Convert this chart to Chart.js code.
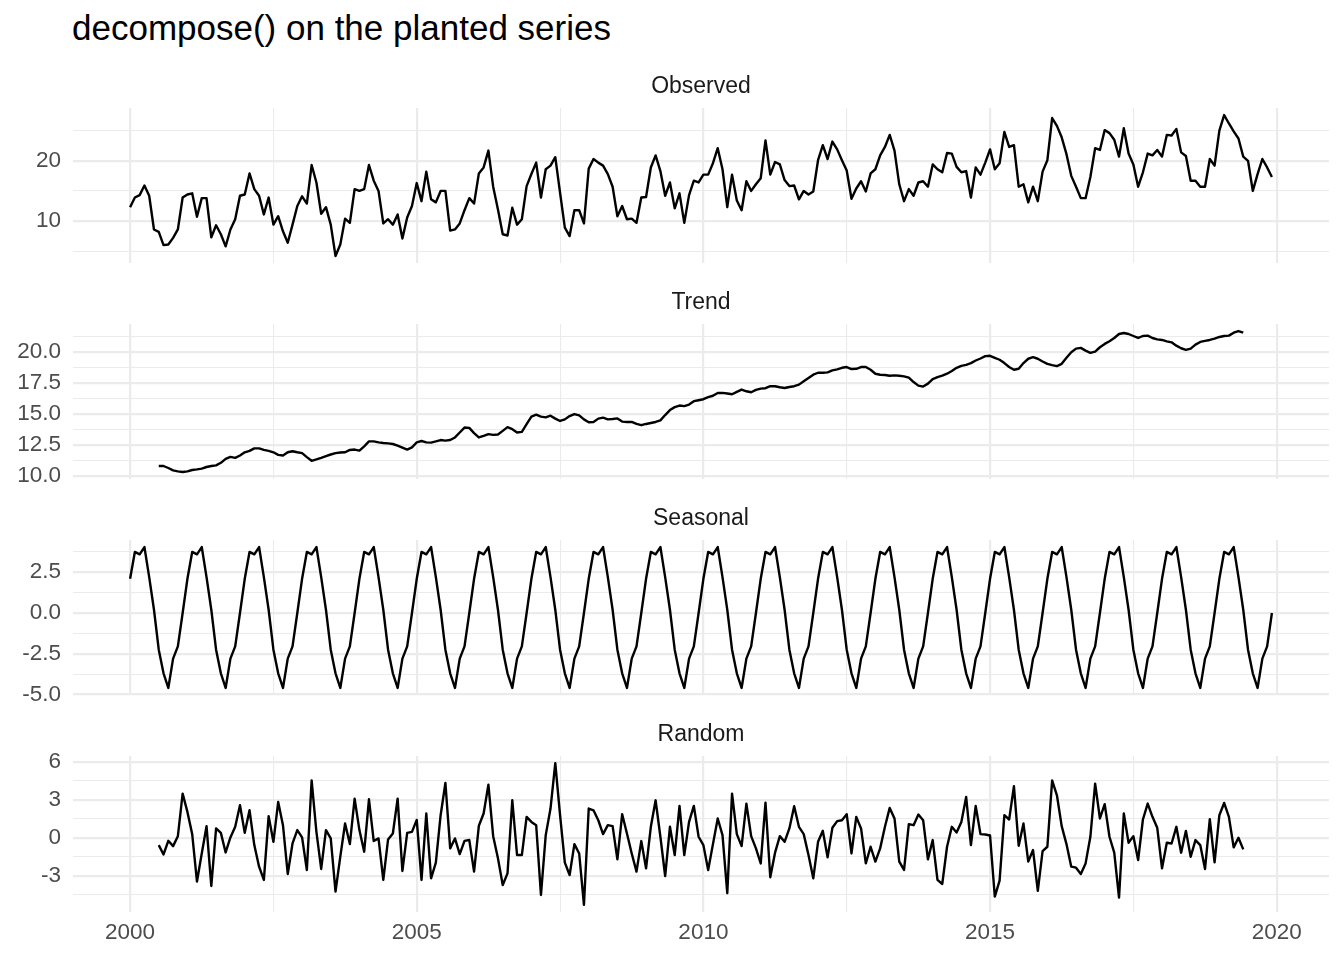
<!DOCTYPE html>
<html>
<head>
<meta charset="utf-8">
<script src="https://cdn.jsdelivr.net/npm/chart.js@4.4.1/dist/chart.umd.min.js"></script>
<style>
html, body { margin: 0; padding: 0; background: #ffffff; }
#wrap { position: relative; width: 1344px; height: 960px; overflow: hidden; background: #ffffff;
        font-family: "Liberation Sans", Arial, Helvetica, sans-serif; }
.title { position: absolute; left: 72px; top: 10px; font-size: 35px; line-height: 35px; color: #000000; white-space: nowrap; }
.strip { position: absolute; left: 73px; width: 1256px; text-align: center; font-size: 23px; line-height: 23px; color: #1A1A1A; white-space: nowrap; }
canvas { position: absolute; left: 0; }
</style>
</head>
<body>
<div id="wrap">
  <canvas id="c0" width="1344" height="215" style="top:78px"></canvas>
  <canvas id="c1" width="1344" height="215" style="top:294px"></canvas>
  <canvas id="c2" width="1344" height="215" style="top:510px"></canvas>
  <canvas id="c3" width="1344" height="247" style="top:726px"></canvas>
  <div class="title">decompose() on the planted series</div>
  <div class="strip" id="s0" style="top:74px"></div>
  <div class="strip" id="s1" style="top:290px"></div>
  <div class="strip" id="s2" style="top:506px"></div>
  <div class="strip" id="s3" style="top:722px"></div>
</div>
<script>
// ---------------- data (monthly, starting Jan 2000) ----------------
const startYear = 2000;
const monthsPerYear = 12;
const panelNames = ["Observed", "Trend", "Seasonal", "Random"];

const observed = [
  12.3, 13.9, 14.3, 15.9, 14.2, 8.6, 8.2, 6.0, 6.1, 7.2, 8.6, 13.9,
  14.4, 14.6, 10.7, 13.8, 13.8, 7.3, 9.3, 7.8, 5.8, 8.6, 10.3, 14.2,
  14.4, 17.9, 15.3, 14.2, 11.1, 13.9, 9.4, 10.8, 8.3, 6.4, 9.4, 12.5,
  14.1, 12.9, 19.3, 16.4, 11.2, 12.3, 9.4, 4.2, 6.1, 10.4, 9.7, 15.3,
  15.0, 15.3, 19.3, 16.7, 15.0, 9.6, 10.3, 9.4, 11.1, 7.1, 10.6, 12.5,
  16.3, 13.3, 18.2, 13.6, 13.1, 15.0, 15.0, 8.4, 8.6, 9.6, 11.8, 13.8,
  12.9, 17.9, 18.9, 21.7, 15.7, 11.9, 7.8, 7.6, 12.2, 9.4, 10.3, 15.8,
  17.8, 19.7, 13.9, 18.6, 19.2, 20.6, 14.7, 8.9, 7.5, 11.8, 11.8, 9.6,
  18.7, 20.3, 19.7, 19.2, 17.8, 15.7, 10.8, 12.5, 10.3, 10.4, 9.7, 13.9,
  14.0, 18.9, 20.9, 18.3, 14.2, 16.4, 12.1, 14.6, 9.7, 14.3, 16.7, 16.4,
  17.7, 17.7, 19.6, 22.1, 18.6, 12.3, 17.7, 13.4, 11.8, 16.6, 15.0, 16.1,
  17.1, 23.4, 17.7, 19.8, 19.4, 16.8, 15.8, 15.9, 13.6, 15.0, 14.4, 14.9,
  20.1, 22.6, 20.3, 23.2, 21.9, 20.1, 18.4, 13.7, 15.4, 16.6, 14.9, 17.9,
  18.6, 20.9, 22.3, 24.3, 21.7, 16.1, 13.3, 15.3, 14.2, 16.4, 16.6, 15.7,
  19.4, 18.6, 18.1, 21.3, 21.2, 19.0, 18.1, 18.3, 13.9, 18.9, 17.7, 19.7,
  21.9, 18.6, 19.6, 24.8, 22.3, 22.6, 15.7, 16.1, 13.1, 15.7, 13.3, 18.2,
  20.1, 27.1, 25.8, 23.9, 21.1, 17.5, 15.7, 13.8, 13.8, 17.3, 22.1, 21.8,
  25.1, 24.6, 23.5, 20.7, 25.4, 21.2, 19.4, 15.7, 18.1, 21.2, 20.9, 21.8,
  20.7, 24.3, 24.2, 25.3, 21.4, 20.8, 16.7, 16.7, 15.7, 15.7, 20.3, 19.2,
  25.0, 27.6, 26.2, 24.9, 23.7, 20.7, 20.0, 15.0, 17.8, 20.3, 18.9, 17.3
];

const trend = [
  null, null, null, null, null, null, 10.8, 10.8, 10.64, 10.45, 10.37, 10.32,
  10.37, 10.48, 10.53, 10.59, 10.72, 10.8, 10.85, 11.06, 11.38, 11.54, 11.46, 11.65,
  11.91, 12.02, 12.23, 12.23, 12.1, 12.02, 11.91, 11.7, 11.65, 11.91, 11.99, 11.91,
  11.84, 11.52, 11.22, 11.33, 11.46, 11.6, 11.73, 11.84, 11.89, 11.91, 12.1, 12.13,
  12.05, 12.39, 12.79, 12.79, 12.71, 12.66, 12.63, 12.58, 12.45, 12.29, 12.13, 12.31,
  12.71, 12.82, 12.71, 12.69, 12.79, 12.9, 12.85, 12.9, 13.11, 13.51, 13.91, 13.88,
  13.46, 13.11, 13.24, 13.38, 13.32, 13.35, 13.64, 13.94, 13.78, 13.51, 13.56, 14.18,
  14.79, 14.95, 14.79, 14.73, 14.87, 14.63, 14.44, 14.57, 14.84, 15.0, 14.89, 14.57,
  14.34, 14.36, 14.63, 14.71, 14.57, 14.6, 14.65, 14.39, 14.36, 14.36, 14.2, 14.1,
  14.2, 14.28, 14.36, 14.49, 14.92, 15.32, 15.56, 15.69, 15.64, 15.77, 16.04, 16.12,
  16.2, 16.37, 16.48, 16.7, 16.71, 16.66, 16.6, 16.79, 16.98, 16.84, 16.76, 16.95,
  17.06, 17.09, 17.25, 17.25, 17.17, 17.11, 17.19, 17.25, 17.38, 17.65, 17.91, 18.18,
  18.34, 18.34, 18.37, 18.53, 18.61, 18.74, 18.8, 18.64, 18.66, 18.8, 18.8, 18.58,
  18.26, 18.18, 18.16, 18.1, 18.13, 18.1, 18.05, 17.94, 17.59, 17.3, 17.22, 17.46,
  17.83, 17.99, 18.1, 18.26, 18.48, 18.74, 18.9, 18.98, 19.12, 19.33, 19.49, 19.68,
  19.71, 19.55, 19.39, 19.12, 18.8, 18.58, 18.66, 19.12, 19.47, 19.6, 19.47, 19.25,
  19.06, 18.96, 18.88, 19.06, 19.55, 20.0, 20.29, 20.35, 20.13, 19.95, 20.05, 20.4,
  20.67, 20.88, 21.15, 21.47, 21.55, 21.47, 21.31, 21.15, 21.31, 21.34, 21.15, 21.04,
  20.99, 20.88, 20.8, 20.53, 20.32, 20.19, 20.29, 20.61, 20.83, 20.91, 20.99, 21.1,
  21.23, 21.31, 21.34, 21.58, 21.71, 21.58, null, null, null, null, null, null
];

const seasonal = [
  2.1, 3.75, 3.6, 4.05, 2.2, 0.2, -2.25, -3.7, -4.6, -2.8, -2.05, 0.0,
  2.1, 3.75, 3.6, 4.05, 2.2, 0.2, -2.25, -3.7, -4.6, -2.8, -2.05, 0.0,
  2.1, 3.75, 3.6, 4.05, 2.2, 0.2, -2.25, -3.7, -4.6, -2.8, -2.05, 0.0,
  2.1, 3.75, 3.6, 4.05, 2.2, 0.2, -2.25, -3.7, -4.6, -2.8, -2.05, 0.0,
  2.1, 3.75, 3.6, 4.05, 2.2, 0.2, -2.25, -3.7, -4.6, -2.8, -2.05, 0.0,
  2.1, 3.75, 3.6, 4.05, 2.2, 0.2, -2.25, -3.7, -4.6, -2.8, -2.05, 0.0,
  2.1, 3.75, 3.6, 4.05, 2.2, 0.2, -2.25, -3.7, -4.6, -2.8, -2.05, 0.0,
  2.1, 3.75, 3.6, 4.05, 2.2, 0.2, -2.25, -3.7, -4.6, -2.8, -2.05, 0.0,
  2.1, 3.75, 3.6, 4.05, 2.2, 0.2, -2.25, -3.7, -4.6, -2.8, -2.05, 0.0,
  2.1, 3.75, 3.6, 4.05, 2.2, 0.2, -2.25, -3.7, -4.6, -2.8, -2.05, 0.0,
  2.1, 3.75, 3.6, 4.05, 2.2, 0.2, -2.25, -3.7, -4.6, -2.8, -2.05, 0.0,
  2.1, 3.75, 3.6, 4.05, 2.2, 0.2, -2.25, -3.7, -4.6, -2.8, -2.05, 0.0,
  2.1, 3.75, 3.6, 4.05, 2.2, 0.2, -2.25, -3.7, -4.6, -2.8, -2.05, 0.0,
  2.1, 3.75, 3.6, 4.05, 2.2, 0.2, -2.25, -3.7, -4.6, -2.8, -2.05, 0.0,
  2.1, 3.75, 3.6, 4.05, 2.2, 0.2, -2.25, -3.7, -4.6, -2.8, -2.05, 0.0,
  2.1, 3.75, 3.6, 4.05, 2.2, 0.2, -2.25, -3.7, -4.6, -2.8, -2.05, 0.0,
  2.1, 3.75, 3.6, 4.05, 2.2, 0.2, -2.25, -3.7, -4.6, -2.8, -2.05, 0.0,
  2.1, 3.75, 3.6, 4.05, 2.2, 0.2, -2.25, -3.7, -4.6, -2.8, -2.05, 0.0,
  2.1, 3.75, 3.6, 4.05, 2.2, 0.2, -2.25, -3.7, -4.6, -2.8, -2.05, 0.0,
  2.1, 3.75, 3.6, 4.05, 2.2, 0.2, -2.25, -3.7, -4.6, -2.8, -2.05, 0.0
];

const random = [
  null, null, null, null, null, null, -0.58, -1.32, -0.24, -0.66, 0.13, 3.5,
  2.05, 0.29, -3.47, -1.24, 0.92, -3.82, 0.74, 0.39, -1.16, 0.03, 0.87, 2.58,
  0.39, 2.18, -0.58, -2.29, -3.34, 1.71, -0.32, 2.84, 1.0, -2.87, -0.45, 0.61,
  0.03, -2.55, 4.55, 0.47, -2.47, 0.61, -0.05, -4.26, -1.5, 1.13, -0.5, 3.1,
  0.61, -1.1, 3.05, -0.26, -0.05, -3.34, -0.13, 0.34, 3.1, -2.63, 0.39, 0.47,
  1.42, -3.34, 1.92, -3.21, -1.97, 1.79, 4.34, -0.84, -0.05, -1.29, -0.24, -0.18,
  -2.68, 0.95, 1.92, 4.21, 0.13, -1.63, -3.74, -2.82, 2.97, -1.37, -1.37, 1.66,
  1.26, 1.0, -4.53, 0.21, 2.32, 5.92, 1.79, -1.97, -2.95, -0.5, -1.24, -5.32,
  2.32, 2.18, 1.39, 0.29, 1.0, 0.92, -1.71, 1.87, 0.34, -1.24, -2.68, -0.26,
  -2.42, 0.87, 2.97, 0.08, -3.03, 0.87, -1.37, 2.53, -1.37, 1.26, 2.53, 0.08,
  -0.58, -2.55, -0.5, 1.53, 0.21, -4.39, 3.5, 0.29, -0.66, 2.71, 0.13, -0.84,
  -2.03, 2.79, -3.13, -1.18, 0.13, -0.32, 0.74, 2.5, 0.87, 0.29, -1.37, -3.21,
  -0.32, 0.55, -1.55, 0.79, 1.32, 1.39, 1.87, -1.24, 1.66, 0.74, -2.03, -0.71,
  -1.89, -0.84, 0.87, 2.37, 1.53, -1.89, -2.55, 1.08, 1.0, 1.84, 1.39, -1.71,
  -0.18, -3.34, -3.66, -0.71, 0.87, 0.42, 1.26, 3.24, -0.58, 2.53, 0.29, 0.26,
  0.18, -4.66, -3.4, 1.79, 1.45, 4.08, -0.63, 1.13, -1.89, -0.97, -4.21, -1.05,
  -0.71, 4.55, 3.37, 0.92, -0.5, -2.29, -2.37, -2.87, -2.03, 0.08, 4.29, 1.53,
  2.66, 0.08, -1.18, -4.74, 1.92, -0.39, 0.13, -1.76, 1.45, 2.71, 1.66, 0.79,
  -2.42, -0.39, -0.45, 0.87, -1.18, 0.55, -1.5, -0.18, -0.58, -2.47, 1.47, -1.95,
  1.79, 2.76, 1.66, -0.76, 0.0, -0.92, null, null, null, null, null, null
];

// ---------------- tick definitions ----------------
const xMajorTicks = [2000, 2005, 2010, 2015, 2020];
const xTickLabels = ["2000", "2005", "2010", "2015", "2020"];
const xMinorTicks = [1997.5, 2002.5, 2007.5, 2012.5, 2017.5, 2022.5];

const observedMajorTicks = [10, 20];
const observedTickLabels = ["10", "20"];
const observedMinorTicks = [5, 15, 25];

const trendMajorTicks = [10, 12.5, 15, 17.5, 20];
const trendTickLabels = ["10.0", "12.5", "15.0", "17.5", "20.0"];
const trendMinorTicks = [8.75, 11.25, 13.75, 16.25, 18.75, 21.25];

const seasonalMajorTicks = [-5, -2.5, 0, 2.5];
const seasonalTickLabels = ["-5.0", "-2.5", "0.0", "2.5"];
const seasonalMinorTicks = [-3.75, -1.25, 1.25, 3.75];

const randomMajorTicks = [-3, 0, 3, 6];
const randomTickLabels = ["-3", "0", "3", "6"];
const randomMinorTicks = [-4.5, -1.5, 1.5, 4.5];

// ---------------- drawing ----------------
Chart.defaults.font.family = '"Liberation Sans", Arial, Helvetica, sans-serif';
const GRID = '#EBEBEB';
const MAJOR_W = 2.2, MINOR_W = 1.1;
const AXIS_TEXT = '#4D4D4D';
const TICK_FONT = { size: 22.5 };

const times = observed.map((_, i) => startYear + i / monthsPerYear);
const tSpan = times[times.length - 1] - times[0];
const xMin = times[0] - 0.05 * tSpan;
const xMax = times[times.length - 1] + 0.05 * tSpan;

function near(a, b) { return Math.abs(a - b) < 1e-9; }

function makePanel(id, values, major, labels, minor, showX) {
  const pts = [];
  values.forEach((v, i) => { if (v !== null) pts.push({ x: times[i], y: v }); });
  const vals = values.filter(v => v !== null);
  const lo = Math.min(...vals), hi = Math.max(...vals);
  const pad = (hi - lo) * 0.05;
  const yMin = lo - pad, yMax = hi + pad;
  const yAll = major.concat(minor).filter(v => v >= yMin && v <= yMax).sort((a, b) => a - b);
  const xAll = xMajorTicks.concat(xMinorTicks).filter(v => v >= xMin && v <= xMax).sort((a, b) => a - b);

  new Chart(document.getElementById(id), {
    type: 'line',
    data: {
      datasets: [{
        data: pts,
        borderColor: '#000000',
        borderWidth: 2.4,
        pointRadius: 0,
        tension: 0,
        fill: false,
        borderJoinStyle: 'round',
        spanGaps: false
      }]
    },
    options: {
      responsive: false,
      animation: false,
      events: [],
      layout: { padding: { left: 0, right: 15, top: 30, bottom: showX ? 20 : 30 } },
      plugins: { legend: { display: false }, tooltip: { enabled: false }, title: { display: false } },
      scales: {
        x: {
          type: 'linear',
          min: xMin, max: xMax,
          bounds: 'data',
          afterBuildTicks: s => { s.ticks = xAll.map(v => ({ value: v })); },
          ticks: {
            display: showX,
            autoSkip: false,
            maxRotation: 0,
            padding: 7,
            color: AXIS_TEXT,
            font: TICK_FONT,
            callback: v => {
              const k = xMajorTicks.findIndex(m => near(m, v));
              return k >= 0 ? xTickLabels[k] : '';
            }
          },
          grid: {
            color: GRID,
            drawTicks: false,
            lineWidth: ctx => (ctx.tick && xMajorTicks.some(m => near(m, ctx.tick.value))) ? MAJOR_W : MINOR_W
          },
          border: { display: false }
        },
        y: {
          type: 'linear',
          min: yMin, max: yMax,
          bounds: 'data',
          afterBuildTicks: s => { s.ticks = yAll.map(v => ({ value: v })); },
          afterFit: s => { s.width = 73; },
          ticks: {
            autoSkip: false,
            padding: 12,
            color: AXIS_TEXT,
            font: TICK_FONT,
            callback: v => {
              const k = major.findIndex(m => near(m, v));
              return k >= 0 ? labels[k] : '';
            }
          },
          grid: {
            color: GRID,
            drawTicks: false,
            lineWidth: ctx => (ctx.tick && major.some(m => near(m, ctx.tick.value))) ? MAJOR_W : MINOR_W
          },
          border: { display: false }
        }
      }
    }
  });
}

panelNames.forEach((n, i) => { document.getElementById('s' + i).textContent = n; });

makePanel('c0', observed, observedMajorTicks, observedTickLabels, observedMinorTicks, false);
makePanel('c1', trend, trendMajorTicks, trendTickLabels, trendMinorTicks, false);
makePanel('c2', seasonal, seasonalMajorTicks, seasonalTickLabels, seasonalMinorTicks, false);
makePanel('c3', random, randomMajorTicks, randomTickLabels, randomMinorTicks, true);
</script>
</body>
</html>
